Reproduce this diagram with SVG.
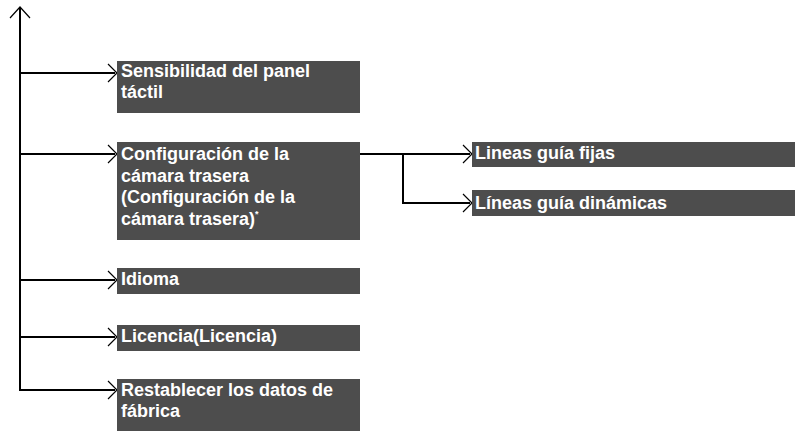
<svg xmlns="http://www.w3.org/2000/svg" width="795" height="431" viewBox="0 0 795 431">
<defs>
<style>
.box{fill:#4d4d4d}
.t{font-family:"Liberation Sans",Arial,sans-serif;font-weight:bold;font-size:18px;fill:#ffffff}
.ln{fill:none;stroke:#000;stroke-width:2}
.ah{fill:none;stroke:#000;stroke-width:1.2}
.sup{font-size:9px}
</style>
</defs>
<rect width="795" height="431" fill="#fff"/>
<g id="connectors">
<path class="ln" d="M20,8 V390 H115"/>
<path class="ah" d="M10,18 L20,7 L30,18"/>
<path class="ln" d="M20,73 H115"/>
<path class="ah" d="M108,64 L117,73 L108,82"/>
<path class="ln" d="M20,154 H115"/>
<path class="ah" d="M108,145 L117,154 L108,163"/>
<path class="ln" d="M20,280 H115"/>
<path class="ah" d="M108,271 L117,280 L108,289"/>
<path class="ln" d="M20,337 H115"/>
<path class="ah" d="M108,328 L117,337 L108,346"/>
<path class="ah" d="M108,381 L117,390 L108,399"/>
<path class="ln" d="M360,154 H470"/>
<path class="ah" d="M463,145 L472,154 L463,163"/>
<path class="ln" d="M403,154 V203 H470"/>
<path class="ah" d="M463,194 L472,203 L463,212"/>
</g>
<g id="n1"><rect class="box" x="117" y="61" width="243" height="52"/><text class="t" x="121" y="77">Sensibilidad del panel</text><text class="t" x="121" y="98">táctil</text></g>
<g id="n2"><rect class="box" x="117" y="142" width="243" height="98"/><text class="t" x="121" y="160">Configuración de la</text><text class="t" x="121" y="182">cámara trasera</text><text class="t" x="121" y="203">(Configuración de la</text><text class="t" x="121" y="225">cámara trasera)<tspan class="sup" dy="-8">*</tspan></text></g>
<g id="n3"><rect class="box" x="472" y="142" width="323" height="25"/><text class="t" x="475" y="159">Lineas guía fijas</text></g>
<g id="n4"><rect class="box" x="472" y="190" width="323" height="26"/><text class="t" x="475" y="209">Líneas guía dinámicas</text></g>
<g id="n5"><rect class="box" x="117" y="268" width="243" height="26"/><text class="t" x="121" y="285">Idioma</text></g>
<g id="n6"><rect class="box" x="117" y="325" width="243" height="26"/><text class="t" x="121" y="342">Licencia(Licencia)</text></g>
<g id="n7"><rect class="box" x="117" y="379" width="243" height="52"/><text class="t" x="121" y="396">Restablecer los datos de</text><text class="t" x="121" y="417">fábrica</text></g>
</svg>
